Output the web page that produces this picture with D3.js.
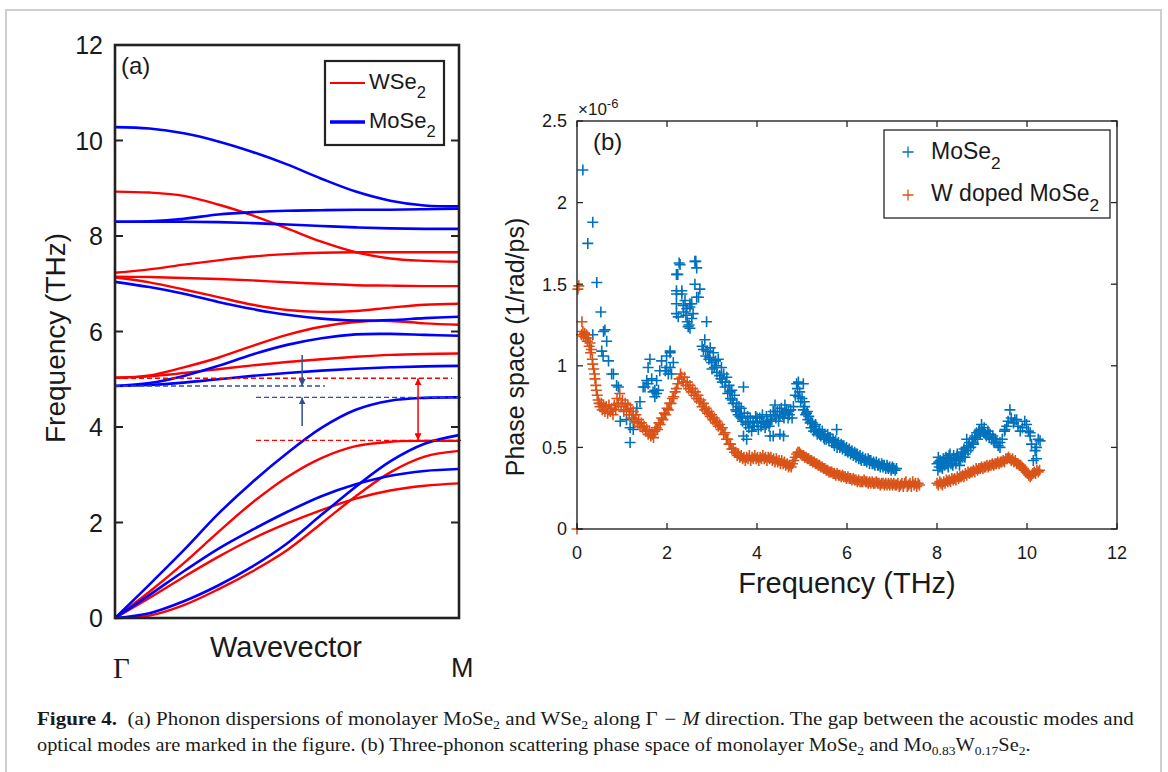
<!DOCTYPE html>
<html>
<head>
<meta charset="utf-8">
<script src="https://cdn.jsdelivr.net/npm/d3@7"></script>
<style>
body { margin: 0; background: #fff; }
svg text { font-family: "Liberation Sans", Arial, sans-serif; fill: #1a1a1a; }
</style>
</head>
<body>
<svg id="fig"></svg>
<script>
const svgWidth = 1168, svgHeight = 772;

// ---- panel (a): phonon bands along Gamma-M (THz), sampled at waveT ----
const waveT = [0, 0.1, 0.2, 0.3, 0.4, 0.5, 0.6, 0.7, 0.8, 0.9, 1.0];
const freqTicksA = [0, 2, 4, 6, 8, 10, 12];

const wse2Bands = [
    [0, 0.05, 0.27, 0.60, 0.98, 1.42, 1.98, 2.55, 3.05, 3.38, 3.50],
    [0, 0.42, 0.86, 1.28, 1.66, 1.98, 2.26, 2.50, 2.67, 2.77, 2.82],
    [0, 0.55, 1.15, 1.80, 2.42, 2.95, 3.35, 3.60, 3.69, 3.71, 3.71],
    [5.03, 5.06, 5.13, 5.21, 5.29, 5.36, 5.42, 5.47, 5.51, 5.53, 5.54],
    [5.03, 5.08, 5.25, 5.45, 5.70, 5.93, 6.10, 6.20, 6.22, 6.17, 6.14],
    [7.13, 7.03, 6.88, 6.72, 6.56, 6.45, 6.41, 6.43, 6.50, 6.56, 6.58],
    [7.15, 7.14, 7.12, 7.10, 7.07, 7.03, 7.00, 6.97, 6.96, 6.95, 6.95],
    [7.23, 7.30, 7.40, 7.49, 7.57, 7.62, 7.65, 7.66, 7.66, 7.66, 7.66],
    [8.93, 8.91, 8.84, 8.66, 8.43, 8.16, 7.88, 7.66, 7.53, 7.48, 7.46]
];

const mose2Bands = [
    [0, 0.10, 0.35, 0.68, 1.08, 1.56, 2.16, 2.75, 3.28, 3.65, 3.83],
    [0, 0.48, 0.98, 1.45, 1.85, 2.22, 2.55, 2.80, 2.98, 3.08, 3.12],
    [0, 0.70, 1.42, 2.18, 2.85, 3.45, 3.98, 4.36, 4.55, 4.61, 4.62],
    [4.86, 4.88, 4.93, 5.00, 5.07, 5.13, 5.18, 5.22, 5.25, 5.27, 5.28],
    [4.86, 4.92, 5.07, 5.28, 5.52, 5.72, 5.86, 5.94, 5.95, 5.93, 5.91],
    [7.04, 6.93, 6.79, 6.62, 6.47, 6.35, 6.27, 6.23, 6.24, 6.28, 6.31],
    [8.30, 8.30, 8.30, 8.29, 8.27, 8.24, 8.21, 8.18, 8.16, 8.15, 8.15],
    [8.30, 8.31, 8.36, 8.45, 8.50, 8.53, 8.54, 8.55, 8.55, 8.56, 8.57],
    [10.28, 10.25, 10.15, 9.98, 9.76, 9.50, 9.20, 8.93, 8.74, 8.64, 8.62]
];

// gap markers: level (THz) and extent along the path
const gapLevels = [
    {f: 5.02, from: 0, to: 0.98, kind: "red"},
    {f: 4.86, from: 0, to: 0.61, kind: "navy"},
    {f: 4.62, from: 0.41, to: 1.01, kind: "navy"},
    {f: 3.72, from: 0.41, to: 1.01, kind: "red"}
];
const gapArrows = [
    {t: 0.544, f0: 5.51, f1: 4.86, kind: "navy", both: false},
    {t: 0.544, f0: 4.02, f1: 4.62, kind: "navy", both: false},
    {t: 0.881, f0: 5.02, f1: 3.72, kind: "red", both: true}
];

// ---- panel (b): three-phonon phase space (x1e-6) vs frequency (THz) ----
const freqTicksB = [0, 2, 4, 6, 8, 10, 12];
const phaseTicks = [0, 0.5, 1, 1.5, 2, 2.5];

const mose2Points = [
    [0.13,2.20],[0.24,1.75],[0.35,1.88],[0.44,1.51],[0.53,1.33],[0.62,1.22],[0.35,1.19],[0.59,1.21],
    [0.66,1.15],[0.55,1.09],[0.58,1.06],[0.70,1.03],[0.77,0.95],[0.81,0.95],[0.88,0.88],[0.92,0.87],
    [0.96,0.66],[1.10,0.67],[1.18,0.62],[1.18,0.53],[1.25,0.61],[1.25,0.70],[1.33,0.74],[1.40,0.78],
    [1.47,0.87],[1.51,0.87],[1.55,0.91],[1.58,0.89],[1.58,0.99],[1.62,1.04],[1.66,0.92],[1.69,0.84],
    [1.73,0.81],[1.73,0.85],[1.77,0.91],[1.77,0.83],[1.81,0.85],[1.84,0.97],[1.88,1.03],[1.96,0.97],
    [1.99,1.06],[1.99,0.99],[2.03,0.95],[2.07,1.09],[2.07,0.99],[2.10,0.95],[2.07,1.08],[2.14,1.02],
    [2.21,1.56],[2.24,1.56],[2.27,1.63],[2.29,1.62],[2.21,1.46],[2.21,1.44],[2.33,1.46],[2.33,1.44],
    [2.21,1.38],[2.21,1.32],[2.25,1.30],[2.40,1.40],[2.44,1.35],[2.47,1.24],[2.51,1.38],[2.51,1.36],
    [2.51,1.23],[2.55,1.29],[2.58,1.32],[2.62,1.50],[2.62,1.64],[2.64,1.64],[2.66,1.60],[2.66,1.42],
    [2.70,1.42],[2.73,1.47],[2.37,1.33],[2.42,1.31],[2.45,1.27],[2.49,1.25],[2.55,1.38],[2.36,1.37],
    [2.78,1.12],[2.81,1.10],[2.84,1.16],[2.88,1.27],[2.86,1.06],[2.90,1.09],[2.93,1.04],[2.96,1.11],
    [2.99,1.02],[3.03,1.08],[3.05,0.99],[3.08,1.03],[3.11,0.96],[3.14,1.04],[3.17,0.94],[3.21,0.99],
    [3.23,0.90],[3.26,0.95],[3.29,0.87],[3.33,0.93],[3.35,0.83],[3.38,0.88],[3.41,0.80],[3.44,0.85],
    [3.47,0.77],[3.50,0.82],[3.53,0.73],[3.55,0.77],[3.58,0.70],[3.62,0.69],[3.65,0.74],[3.68,0.66],
    [3.70,0.87],[3.70,0.57],[3.72,0.71],[3.75,0.64],[3.77,0.55],[3.79,0.69],[3.82,0.62],[3.85,0.68],
    [3.88,0.60],[3.91,0.66],[3.94,0.63],[3.97,0.69],[4.00,0.65],[4.03,0.61],[4.06,0.68],[4.09,0.63],
    [4.12,0.70],[4.15,0.65],[4.18,0.62],[4.21,0.69],[4.24,0.66],[4.27,0.63],[4.29,0.57],[4.30,0.70],
    [4.33,0.67],[4.36,0.57],[4.36,0.72],[4.40,0.76],[4.42,0.68],[4.45,0.72],[4.48,0.66],[4.51,0.58],
    [4.51,0.69],[4.54,0.74],[4.57,0.70],[4.59,0.57],[4.62,0.76],[4.64,0.71],[4.66,0.73],[4.69,0.68],
    [4.72,0.70],[4.75,0.73],[4.78,0.68],[4.81,0.75],[4.85,0.82],[4.88,0.89],[4.90,0.86],[4.92,0.90],
    [4.92,0.81],[4.95,0.84],[4.97,0.78],[5.00,0.80],[5.03,0.73],[5.03,0.89],[5.06,0.75],[5.08,0.70],
    [5.10,0.71],[5.13,0.67],[5.15,0.69],[5.18,0.65],[5.20,0.62],[5.23,0.65],[5.26,0.60],[5.28,0.63],
    [5.31,0.61],[5.34,0.58],[5.36,0.59],[5.39,0.61],[5.42,0.57],[5.45,0.60],[5.48,0.56],[5.51,0.58],
    [5.54,0.55],[5.57,0.58],[5.60,0.54],[5.63,0.56],[5.66,0.53],[5.69,0.55],[5.72,0.51],[5.75,0.54],
    [5.77,0.61],[5.78,0.50],[5.81,0.53],[5.84,0.50],[5.87,0.52],[5.90,0.49],[5.93,0.51],[5.96,0.48],
    [5.99,0.50],[6.02,0.47],[6.05,0.49],[6.08,0.46],[6.11,0.48],[6.14,0.45],[6.17,0.47],[6.20,0.44],
    [6.23,0.46],[6.26,0.43],[6.29,0.45],[6.32,0.42],[6.35,0.44],[6.38,0.42],[6.41,0.43],[6.44,0.41],
    [6.47,0.43],[6.50,0.40],[6.53,0.42],[6.56,0.40],[6.59,0.41],[6.62,0.39],[6.65,0.41],[6.68,0.39],
    [6.71,0.40],[6.74,0.38],[6.77,0.40],[6.80,0.38],[6.83,0.39],[6.86,0.37],[6.89,0.39],[6.92,0.37],
    [6.95,0.38],[6.98,0.36],[7.01,0.38],[7.04,0.37],[7.07,0.36],[7.10,0.37],
    [2.95,1.05],[3.00,0.98],[3.10,1.00],[3.20,0.92],[3.30,0.90],[3.40,0.84],[3.45,0.79],[3.55,0.72],
    [3.60,0.75],[3.65,0.68],[3.80,0.65],[3.90,0.63],[4.00,0.68],[4.10,0.66],[4.20,0.64],[4.30,0.66],
    [4.40,0.70],[4.50,0.72],[4.60,0.68],[4.70,0.72],[5.05,0.78],[5.12,0.72],[5.20,0.66],[5.30,0.64],
    [5.40,0.58],[5.50,0.55],[5.60,0.56],[5.70,0.53],[5.80,0.52],[5.90,0.51],[6.00,0.48],[6.10,0.47],
    [6.20,0.46],[6.30,0.43],[6.40,0.42],[6.50,0.42],[6.60,0.40],[6.70,0.39],[6.80,0.39],[6.90,0.38],
    [7.00,0.37],
    [8.00,0.40],[8.02,0.36],[8.03,0.44],[8.05,0.38],[8.07,0.42],[8.10,0.40],[8.12,0.37],[8.14,0.43],
    [8.17,0.39],[8.20,0.44],[8.22,0.41],[8.25,0.38],[8.27,0.45],[8.29,0.46],[8.32,0.42],[8.35,0.39],
    [8.37,0.45],[8.40,0.43],[8.42,0.40],[8.45,0.46],[8.48,0.43],[8.50,0.39],[8.51,0.42],[8.54,0.47],
    [8.57,0.44],[8.60,0.49],[8.63,0.46],[8.66,0.50],[8.66,0.55],[8.69,0.48],[8.72,0.53],[8.75,0.50],
    [8.78,0.55],[8.81,0.52],[8.84,0.57],[8.88,0.59],[8.90,0.55],[8.93,0.60],[8.96,0.58],[8.99,0.64],
    [9.02,0.60],[9.05,0.62],[9.08,0.58],[9.10,0.57],[9.13,0.60],[9.16,0.56],[9.18,0.58],[9.21,0.55],
    [9.24,0.57],[9.27,0.53],[9.30,0.55],[9.33,0.53],[9.36,0.51],[9.40,0.50],[9.40,0.53],[9.45,0.55],
    [9.50,0.60],[9.51,0.61],[9.55,0.63],[9.58,0.66],[9.62,0.73],[9.65,0.68],[9.70,0.65],[9.73,0.67],
    [9.77,0.67],[9.80,0.63],[9.85,0.60],[9.90,0.62],[9.95,0.66],[9.99,0.64],[10.03,0.60],[10.07,0.59],
    [10.07,0.57],[10.10,0.52],[10.14,0.42],[10.18,0.48],[10.21,0.50],[10.21,0.43],[10.25,0.55],[10.29,0.54],
    [8.04,0.41],[8.09,0.38],[8.16,0.41],[8.24,0.43],[8.31,0.40],[8.38,0.42],[8.44,0.44],[8.53,0.44],
    [8.58,0.47],[8.62,0.44],[8.70,0.51],[8.80,0.53],[8.86,0.56],[8.95,0.61],[9.04,0.59],[9.15,0.58],
    [9.25,0.55]
];

const wDopedPoints = [
    [0.00,0.00],[0.02,1.47],[0.04,1.49],[0.11,1.27],
    [0.10,1.19],[0.13,1.21],[0.15,1.18],[0.17,1.20],[0.19,1.17],[0.21,1.19],[0.23,1.15],[0.25,1.17],
    [0.27,1.12],[0.29,1.14],[0.30,1.08],[0.32,1.10],[0.34,1.04],[0.35,1.01],[0.37,0.98],[0.39,0.95],
    [0.40,0.92],[0.42,0.88],[0.43,0.85],[0.45,0.82],[0.47,0.79],[0.49,0.77],[0.51,0.75],[0.54,0.77],
    [0.56,0.73],[0.59,0.76],[0.62,0.72],[0.65,0.75],[0.68,0.71],[0.71,0.76],[0.74,0.72],[0.77,0.74],
    [0.80,0.70],[0.83,0.76],[0.86,0.73],[0.89,0.80],[0.92,0.77],[0.95,0.83],[0.98,0.75],[1.01,0.79],
    [1.04,0.72],[1.07,0.77],[1.10,0.73],[1.13,0.76],[1.16,0.70],[1.19,0.74],[1.22,0.68],[1.25,0.72],
    [1.28,0.66],[1.31,0.70],[1.34,0.65],[1.37,0.67],[1.40,0.63],[1.43,0.65],[1.46,0.62],[1.49,0.63],
    [1.52,0.60],[1.55,0.61],[1.58,0.58],[1.61,0.60],[1.64,0.57],[1.67,0.58],[1.70,0.56],[1.73,0.60],
    [1.76,0.62],[1.79,0.61],[1.82,0.65],[1.85,0.64],[1.88,0.68],[1.91,0.67],[1.94,0.71],[1.97,0.70],
    [2.00,0.74],[2.03,0.73],[2.06,0.77],[2.09,0.77],[2.12,0.80],[2.15,0.81],[2.18,0.84],[2.21,0.86],
    [2.24,0.89],[2.27,0.92],[2.30,0.95],[2.33,0.93],[2.36,0.90],[2.39,0.93],[2.42,0.88],[2.45,0.90],
    [2.48,0.86],[2.51,0.88],[2.54,0.84],[2.57,0.86],[2.60,0.82],[2.63,0.84],[2.66,0.80],[2.69,0.82],
    [2.72,0.78],[2.75,0.79],[2.78,0.75],[2.81,0.77],[2.84,0.73],[2.87,0.74],[2.90,0.71],[2.93,0.72],
    [2.96,0.69],[2.99,0.70],[3.02,0.67],[3.05,0.68],[3.08,0.65],[3.11,0.66],[3.14,0.63],[3.17,0.64],
    [3.20,0.61],[3.23,0.62],[3.26,0.58],[3.29,0.59],[3.32,0.55],[3.35,0.55],[3.38,0.52],[3.41,0.52],
    [3.44,0.49],[3.47,0.49],[3.50,0.47],[3.53,0.47],[3.56,0.45],[3.59,0.46],[3.62,0.44],[3.65,0.45],
    [3.68,0.43],[3.71,0.44],[3.74,0.42],[3.77,0.44],[3.80,0.43],[3.83,0.45],[3.86,0.42],[3.89,0.44],
    [3.92,0.43],[3.95,0.45],[3.98,0.43],[4.01,0.44],[4.04,0.42],[4.07,0.44],[4.10,0.43],[4.13,0.45],
    [4.16,0.43],[4.19,0.44],[4.22,0.42],[4.25,0.44],[4.28,0.43],[4.31,0.44],[4.34,0.42],[4.37,0.43],
    [4.40,0.41],[4.43,0.43],[4.46,0.41],[4.49,0.42],[4.52,0.40],[4.55,0.42],[4.58,0.40],[4.61,0.41],
    [4.64,0.39],[4.67,0.40],[4.70,0.38],[4.73,0.39],[4.76,0.38],[4.79,0.40],[4.82,0.42],[4.85,0.44],
    [4.88,0.46],[4.91,0.47],[4.94,0.47],[4.97,0.46],[5.00,0.45],[5.03,0.45],[5.06,0.44],[5.09,0.44],
    [5.12,0.43],[5.15,0.43],[5.18,0.42],[5.21,0.42],[5.24,0.41],[5.27,0.41],[5.30,0.40],[5.33,0.40],
    [5.36,0.39],[5.39,0.39],[5.42,0.38],[5.45,0.38],[5.48,0.37],[5.51,0.37],[5.54,0.36],[5.57,0.36],
    [5.60,0.35],[5.63,0.35],[5.66,0.35],[5.69,0.34],[5.72,0.34],[5.75,0.33],[5.78,0.34],[5.81,0.33],
    [5.84,0.33],[5.87,0.32],[5.90,0.33],[5.93,0.32],[5.96,0.32],[5.99,0.31],[6.02,0.32],[6.05,0.31],
    [6.08,0.31],[6.11,0.30],[6.14,0.31],[6.17,0.30],[6.20,0.30],[6.23,0.29],[6.26,0.30],[6.29,0.29],
    [6.32,0.29],[6.35,0.29],[6.38,0.30],[6.41,0.29],[6.44,0.29],[6.47,0.28],[6.50,0.29],[6.53,0.28],
    [6.56,0.29],[6.59,0.28],[6.62,0.28],[6.65,0.29],[6.68,0.28],[6.71,0.28],[6.74,0.27],[6.77,0.28],
    [6.80,0.28],[6.83,0.27],[6.86,0.28],[6.89,0.27],[6.92,0.28],[6.95,0.27],[6.98,0.28],[7.01,0.27],
    [7.04,0.28],[7.07,0.27],[7.10,0.27],[7.13,0.28],[7.16,0.26],[7.19,0.27],[7.22,0.28],[7.25,0.26],
    [7.28,0.28],[7.31,0.29],[7.34,0.26],[7.37,0.27],[7.40,0.28],[7.43,0.26],[7.46,0.29],[7.49,0.27],
    [7.52,0.28],[7.55,0.26],[7.58,0.28],[7.61,0.27],
    [8.00,0.28],[8.03,0.27],[8.06,0.29],[8.09,0.28],[8.12,0.27],[8.15,0.29],[8.18,0.28],[8.21,0.30],
    [8.24,0.29],[8.27,0.30],[8.30,0.29],[8.33,0.31],[8.36,0.30],[8.39,0.31],[8.42,0.30],[8.45,0.32],
    [8.48,0.31],[8.51,0.32],[8.54,0.32],[8.57,0.33],[8.60,0.32],[8.63,0.34],[8.66,0.33],[8.69,0.35],
    [8.72,0.34],[8.75,0.35],[8.78,0.35],[8.81,0.36],[8.84,0.35],[8.87,0.37],[8.90,0.36],[8.93,0.37],
    [8.96,0.37],[8.99,0.38],[9.02,0.37],[9.05,0.38],[9.08,0.38],[9.11,0.39],[9.14,0.38],[9.17,0.39],
    [9.20,0.39],[9.23,0.40],[9.26,0.39],[9.29,0.40],[9.32,0.40],[9.35,0.41],[9.38,0.40],[9.41,0.41],
    [9.44,0.41],[9.47,0.42],[9.50,0.41],[9.53,0.43],[9.56,0.43],[9.59,0.44],[9.62,0.43],[9.65,0.42],
    [9.68,0.43],[9.71,0.41],[9.74,0.42],[9.77,0.40],[9.80,0.40],[9.83,0.39],[9.86,0.39],[9.89,0.38],
    [9.92,0.37],[9.95,0.36],[9.98,0.35],[10.01,0.34],[10.04,0.33],[10.07,0.32],[10.10,0.33],[10.13,0.34],
    [10.16,0.35],[10.19,0.34],[10.22,0.36],[10.25,0.35],[10.28,0.36]
];

const colors = {
    red: "#ff0000",
    blue: "#0000ff",
    navy: "#2f4f96",
    matBlue: "#0072bd",
    matOrange: "#d95319",
    axis: "#262626"
};

const svg = d3.select("#fig")
    .attr("width", svgWidth)
    .attr("height", svgHeight);

// outer frame of the figure page
svg.append("rect")
    .attr("x", 6).attr("y", 10)
    .attr("width", 1155).attr("height", 800)
    .attr("fill", "none")
    .attr("stroke", "#cfcfcf")
    .attr("stroke-width", 2);

// ================= panel (a) =================
const xA = d3.scaleLinear().domain([0, 1]).range([115, 459]);
const yA = d3.scaleLinear().domain([0, 12]).range([618, 45]);

const bandLine = d3.line()
    .x(function(d, i){ return xA(waveT[i]); })
    .y(function(d){ return yA(d); })
    .curve(d3.curveCatmullRom.alpha(0.5));

const gA = svg.append("g");

gA.append("g").selectAll("path")
    .data(wse2Bands)
    .enter()
    .append("path")
    .attr("d", bandLine)
    .attr("fill", "none")
    .attr("stroke", colors.red)
    .attr("stroke-width", 2.4);

gA.append("g").selectAll("path")
    .data(mose2Bands)
    .enter()
    .append("path")
    .attr("d", bandLine)
    .attr("fill", "none")
    .attr("stroke", colors.blue)
    .attr("stroke-width", 2.6);

// arrow heads
const defs = svg.append("defs");
["red", "navy"].forEach(function(k){
    defs.append("marker")
        .attr("id", "head-" + k)
        .attr("viewBox", "0 0 10 10")
        .attr("refX", 10).attr("refY", 5)
        .attr("markerWidth", 7).attr("markerHeight", 7)
        .attr("markerUnits", "userSpaceOnUse")
        .attr("orient", "auto-start-reverse")
        .append("path")
        .attr("d", "M0,0L10,5L0,10z")
        .attr("fill", colors[k]);
});

gA.append("g").selectAll("line")
    .data(gapLevels)
    .enter()
    .append("line")
    .attr("x1", function(d){ return xA(d.from); })
    .attr("x2", function(d){ return xA(d.to); })
    .attr("y1", function(d){ return yA(d.f); })
    .attr("y2", function(d){ return yA(d.f); })
    .attr("stroke", function(d){ return colors[d.kind]; })
    .attr("stroke-width", 1.4)
    .attr("stroke-dasharray", "5,3");

gA.append("g").selectAll("line")
    .data(gapArrows)
    .enter()
    .append("line")
    .attr("x1", function(d){ return xA(d.t); })
    .attr("x2", function(d){ return xA(d.t); })
    .attr("y1", function(d){ return yA(d.f0); })
    .attr("y2", function(d){ return yA(d.f1); })
    .attr("stroke", function(d){ return colors[d.kind]; })
    .attr("stroke-width", 1.5)
    .attr("marker-end", function(d){ return "url(#head-" + d.kind + ")"; })
    .attr("marker-start", function(d){ return d.both ? "url(#head-" + d.kind + ")" : null; });

// y ticks, both sides, pointing in
const ticksA = gA.append("g");
freqTicksA.forEach(function(v){
    ticksA.append("line").attr("x1", 115).attr("x2", 123)
        .attr("y1", yA(v)).attr("y2", yA(v))
        .attr("stroke", "#222").attr("stroke-width", 2);
    ticksA.append("line").attr("x1", 459).attr("x2", 451)
        .attr("y1", yA(v)).attr("y2", yA(v))
        .attr("stroke", "#222").attr("stroke-width", 2);
    ticksA.append("text")
        .attr("x", 103).attr("y", yA(v)).attr("dy", "0.36em")
        .attr("text-anchor", "end")
        .style("font-size", "25px")
        .text(v);
});

gA.append("rect")
    .attr("x", xA(0)).attr("y", yA(12))
    .attr("width", xA(1) - xA(0)).attr("height", yA(0) - yA(12))
    .attr("fill", "none")
    .attr("stroke", "#222")
    .attr("stroke-width", 2.6);

gA.append("text")
    .attr("transform", "translate(65," + 338 + ") rotate(-90)")
    .attr("text-anchor", "middle")
    .style("font-size", "28px")
    .text("Frequency (THz)");

gA.append("text")
    .attr("x", 286).attr("y", 657)
    .attr("text-anchor", "middle")
    .style("font-size", "29px")
    .text("Wavevector");

gA.append("text")
    .attr("x", 113).attr("y", 678)
    .style("font-family", "'Liberation Serif', 'Times New Roman', serif")
    .style("font-size", "29px")
    .text("Γ");

gA.append("text")
    .attr("x", 451).attr("y", 677)
    .style("font-size", "27px")
    .text("M");

gA.append("text")
    .attr("x", 121).attr("y", 74)
    .style("font-size", "24px")
    .text("(a)");

function subLabel(g, x, y, base, sub, size){
    var t = g.append("text").attr("x", x).attr("y", y).style("font-size", size + "px");
    t.append("tspan").text(base);
    t.append("tspan").attr("dy", size * 0.42).style("font-size", (size * 0.75) + "px").text(sub);
    return t;
}

// legend (a)
const legA = gA.append("g");
legA.append("rect")
    .attr("x", 325).attr("y", 61).attr("width", 119).attr("height", 84)
    .attr("fill", "#fff").attr("stroke", "#222").attr("stroke-width", 2.2);
legA.append("line").attr("x1", 330).attr("x2", 365).attr("y1", 83).attr("y2", 83)
    .attr("stroke", colors.red).attr("stroke-width", 2);
legA.append("line").attr("x1", 330).attr("x2", 365).attr("y1", 122).attr("y2", 122)
    .attr("stroke", colors.blue).attr("stroke-width", 3.5);
subLabel(legA, 369, 89, "WSe", "2", 22);
subLabel(legA, 369, 128, "MoSe", "2", 22);

// ================= panel (b) =================
const xB = d3.scaleLinear().domain([0, 12]).range([577, 1117]);
const yB = d3.scaleLinear().domain([0, 2.5]).range([529, 121]);
const plus = "M-5.5,0H5.5M0,-5.5V5.5";

const gB = svg.append("g");

function drawScatter(points, color){
    gB.append("g").selectAll("path")
        .data(points)
        .enter()
        .append("path")
        .attr("d", plus)
        .attr("transform", function(d){ return "translate(" + xB(d[0]) + "," + yB(d[1]) + ")"; })
        .attr("fill", "none")
        .attr("stroke", color)
        .attr("stroke-width", 1.6);
}
drawScatter(mose2Points, colors.matBlue);
drawScatter(wDopedPoints, colors.matOrange);

const ticksB = gB.append("g");
freqTicksB.forEach(function(v){
    ticksB.append("line").attr("x1", xB(v)).attr("x2", xB(v))
        .attr("y1", 529).attr("y2", 523).attr("stroke", colors.axis).attr("stroke-width", 1.3);
    ticksB.append("line").attr("x1", xB(v)).attr("x2", xB(v))
        .attr("y1", 121).attr("y2", 127).attr("stroke", colors.axis).attr("stroke-width", 1.3);
    ticksB.append("text")
        .attr("x", xB(v)).attr("y", 559)
        .attr("text-anchor", "middle")
        .style("font-size", "18px")
        .text(v);
});
phaseTicks.forEach(function(v){
    ticksB.append("line").attr("x1", 577).attr("x2", 583)
        .attr("y1", yB(v)).attr("y2", yB(v)).attr("stroke", colors.axis).attr("stroke-width", 1.3);
    ticksB.append("line").attr("x1", 1117).attr("x2", 1111)
        .attr("y1", yB(v)).attr("y2", yB(v)).attr("stroke", colors.axis).attr("stroke-width", 1.3);
    ticksB.append("text")
        .attr("x", 567).attr("y", yB(v)).attr("dy", "0.36em")
        .attr("text-anchor", "end")
        .style("font-size", "18px")
        .text(v);
});

gB.append("rect")
    .attr("x", xB(0)).attr("y", yB(2.5))
    .attr("width", xB(12) - xB(0)).attr("height", yB(0) - yB(2.5))
    .attr("fill", "none")
    .attr("stroke", colors.axis)
    .attr("stroke-width", 1.4);

const expo = gB.append("text").attr("x", 578).attr("y", 115).style("font-size", "17px");
expo.append("tspan").text("×10");
expo.append("tspan").attr("dy", -7).style("font-size", "13px").text("-6");

gB.append("text")
    .attr("transform", "translate(524,347) rotate(-90)")
    .attr("text-anchor", "middle")
    .style("font-size", "25px")
    .text("Phase space (1/rad/ps)");

gB.append("text")
    .attr("x", 847).attr("y", 593)
    .attr("text-anchor", "middle")
    .style("font-size", "29px")
    .text("Frequency (THz)");

gB.append("text")
    .attr("x", 593).attr("y", 150)
    .style("font-size", "24px")
    .text("(b)");

// legend (b)
const legB = gB.append("g");
legB.append("rect")
    .attr("x", 884).attr("y", 130).attr("width", 226).attr("height", 88)
    .attr("fill", "#fff").attr("stroke", colors.axis).attr("stroke-width", 1.3);
legB.append("path").attr("d", plus).attr("transform", "translate(908,152)")
    .attr("stroke", colors.matBlue).attr("stroke-width", 1.3);
legB.append("path").attr("d", plus).attr("transform", "translate(908,195)")
    .attr("stroke", colors.matOrange).attr("stroke-width", 1.3);
subLabel(legB, 931, 159, "MoSe", "2", 23);
subLabel(legB, 931, 201, "W doped MoSe", "2", 23);

// ================= caption =================
const captionLines = [
    {y: 725, width: 1087, parts: [
        ["Figure 4.", "b"], ["(a) Phonon dispersions of monolayer MoSe", "gap"], ["2", "sub"],
        [" and WSe"], ["2", "sub"], [" along Γ"], [" − ", "i"], ["M", "i"],
        [" direction. The gap between the acoustic modes and"]
    ]},
    {y: 751, width: 994, parts: [
        ["optical modes are marked in the figure. (b) Three-phonon scattering phase space of monolayer MoSe"],
        ["2", "sub"], [" and Mo"], ["0.83", "sub"], ["W"], ["0.17", "sub"], ["Se"], ["2", "sub"], ["."]
    ]}
];

captionLines.forEach(function(line){
    var t = svg.append("text")
        .attr("x", 0).attr("y", 0)
        .style("font-family", "'Liberation Serif', 'Times New Roman', serif")
        .style("font-size", "18px")
        .attr("xml:space", "preserve");
    var shifted = false;
    line.parts.forEach(function(p){
        var s = t.append("tspan").text(p[0]);
        if (p[1] == "sub"){
            s.style("font-size", "12px").attr("dy", 4);
            shifted = true;
        } else if (shifted){
            s.attr("dy", -4);
            shifted = false;
        }
        if (p[1] == "b") s.style("font-weight", "bold");
        if (p[1] == "i") s.style("font-style", "italic");
        if (p[1] == "gap") s.attr("dx", 9);
    });
    var w = t.node().getComputedTextLength();
    t.attr("transform", "translate(37," + line.y + ") scale(" + (line.width / w) + ",1)");
});
</script>
</body>
</html>
